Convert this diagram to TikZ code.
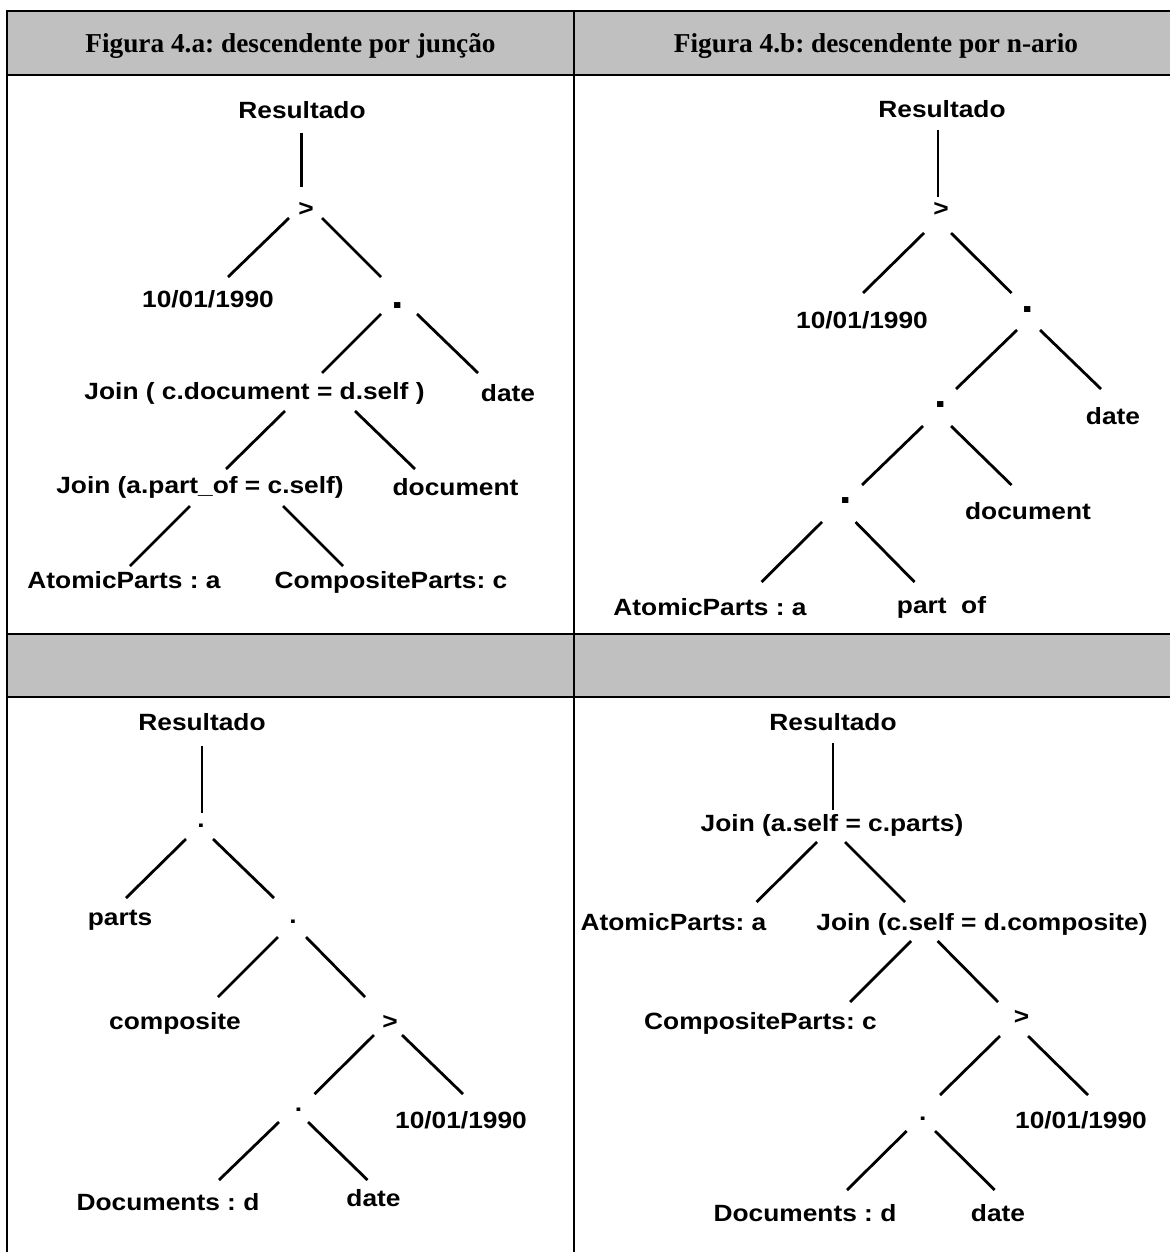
\documentclass[tikz,border=0pt]{standalone}
\usepackage{fontspec}
\newfontfamily\treefamily{Liberation Sans}[FakeStretch=1.12]
\newfontfamily\headfamily{Liberation Serif}
\newcommand\treetext{\treefamily\bfseries\fontsize{23.5}{28}\selectfont\frenchspacing}
\newcommand\bigdot{\treefamily\bfseries\fontsize{40}{40}\selectfont}
\newcommand\headtext{\headfamily\bfseries\fontsize{27.3}{32}\selectfont\frenchspacing}
\definecolor{cellgrey}{HTML}{C0C0C0}
% edge between two named nodes, each end shifted from the node's base point
\newcommand\treelink[4]{\draw[edge] ([shift={(#2)}]#1.base) -- ([shift={(#4)}]#3.base);}
\begin{document}
\begin{tikzpicture}[x=1pt,y=-1pt,
  tn/.style={inner sep=0pt, anchor=base, font=\treetext},
  dn/.style={inner sep=0pt, anchor=base, font=\bigdot},
  hd/.style={inner sep=0pt, anchor=base, font=\headtext},
  edge/.style={line width=2.8pt, line cap=butt},
  rule/.style={line width=2pt}]
\useasboundingbox (0,0) rectangle (1170,1252);

% table: grey bands and rules
\fill[cellgrey] (7,11) rectangle (1170,75);
\fill[cellgrey] (7,634.3) rectangle (1170,697);
\draw[rule] (6,11) -- (1170,11);
\draw[rule] (6,75) -- (1170,75);
\draw[rule] (6,634.3) -- (1170,634.3);
\draw[rule] (6,697) -- (1170,697);
\draw[rule] (7,10) -- (7,1252);
\draw[rule] (574.3,10) -- (574.3,1252);

\node[hd] (headA) at (290.5,52.7) {Figura 4.a: descendente por junção};
\node[hd] (headB) at (876,52.7) {Figura 4.b: descendente por n-ario};

% ---- tree 4.a
\node[tn] (rA) at (302,118.5) {Resultado};
\node[tn] (gtA) at (306,216) {>};
\node[tn] (dA1) at (208,307) {10/01/1990};
\node[dn] (dotA1) at (398,308.5) {.};
\node[tn] (j1A) at (254.5,399.5) {Join ( c.document = d.self )};
\node[tn] (dateA) at (508,401.5) {date};
\node[tn] (j2A) at (200,493.5) {Join (a.part\_of = c.self)};
\node[tn] (docA) at (455.5,495) {document};
\node[tn] (atA) at (124,588.3) {AtomicParts : a};
\node[tn] (cpA) at (391,588.3) {CompositeParts: c};
\treelink{rA}{-0.5,14.5}{gtA}{-4.5,-29}
\treelink{gtA}{-17,2}{dA1}{20,-30}
\treelink{gtA}{16,2}{dotA1}{-17,-31.5}
\treelink{dotA1}{-17,5.5}{j1A}{67.5,-26.5}
\treelink{dotA1}{19,5.5}{dateA}{-30,-28.5}
\treelink{j1A}{30.5,11.5}{j2A}{26,-24.5}
\treelink{j1A}{100.5,11.5}{docA}{-40.5,-26}
\treelink{j2A}{-10,12.5}{atA}{6,-22.3}
\treelink{j2A}{83,12.5}{cpA}{-48,-22.3}

% ---- tree 4.b
\node[tn] (rB) at (942,117.5) {Resultado};
\node[tn] (gtB) at (941,216.5) {>};
\node[tn] (dB1) at (862,328.3) {10/01/1990};
\node[dn] (dotB1) at (1028,312.7) {.};
\node[tn] (dateB) at (1113,424) {date};
\node[dn] (dotB2) at (941,407.7) {.};
\node[tn] (docB) at (1028,519.3) {document};
\node[dn] (dotB3) at (846,503.3) {.};
\node[tn] (atB) at (710,615) {AtomicParts : a};
\node[tn] (pofB) at (941.5,613) {part~~of};
\treelink{rB}{-4,12.5}{gtB}{-3,-19.5}
\treelink{gtB}{-17,16.5}{dB1}{1,-35.3}
\treelink{gtB}{10,16.5}{dotB1}{-16.5,-19.7}
\treelink{dotB1}{-11,17.3}{dotB2}{15,-18.7}
\treelink{dotB1}{12,17.3}{dateB}{-12,-35}
\treelink{dotB2}{-18,18.3}{dotB3}{16,-18.3}
\treelink{dotB2}{10,18.3}{docB}{-16.5,-34.3}
\treelink{dotB3}{-24,18.7}{atB}{51.5,-33}
\treelink{dotB3}{9.5,18.7}{pofB}{-27,-31}

% ---- tree lower left
\node[tn] (rC) at (202,730.7) {Resultado};
\node[tn] (dotC1) at (201,827.7) {.};
\node[tn] (partsC) at (120,925) {parts};
\node[tn] (dotC2) at (293,923.3) {.};
\node[tn] (compC) at (175,1029.3) {composite};
\node[tn] (gtC) at (390,1029) {>};
\node[tn] (dotC3) at (298.5,1111.7) {.};
\node[tn] (d90C) at (461,1128.3) {10/01/1990};
\node[tn] (docsC) at (168,1210) {Documents : d};
\node[tn] (dateC) at (373.5,1206.7) {date};
\treelink{rC}{0,15.3}{dotC1}{1,-14.7}
\treelink{dotC1}{-15,11.3}{partsC}{6,-27}
\treelink{dotC1}{12,11.3}{dotC2}{-19,-25.3}
\treelink{dotC2}{-15,13.7}{compC}{43,-32.3}
\treelink{dotC2}{13,13.7}{gtC}{-25,-32}
\treelink{gtC}{-16,6}{dotC3}{16,-17.7}
\treelink{gtC}{12,6}{d90C}{2,-34.3}
\treelink{dotC3}{-19.5,10.3}{docsC}{51,-30}
\treelink{dotC3}{9.5,10.3}{dateC}{-6,-26.7}

% ---- tree lower right
\node[tn] (rD) at (833,730) {Resultado};
\node[tn] (j1D) at (832,831) {Join (a.self = c.parts)};
\node[tn] (atD) at (673.5,930) {AtomicParts: a};
\node[tn] (j2D) at (982,930) {Join (c.self = d.composite)};
\node[tn] (cpD) at (760.5,1029.3) {CompositeParts: c};
\node[tn] (gtD) at (1021.6,1024) {>};
\node[tn] (dotD) at (922.7,1120) {.};
\node[tn] (d90D) at (1081,1128.3) {10/01/1990};
\node[tn] (docsD) at (805,1221.7) {Documents : d};
\node[tn] (dateD) at (998,1221.7) {date};
\treelink{rD}{0,13}{j1D}{1,-21}
\treelink{j1D}{-15,11}{atD}{83.1,-28}
\treelink{j1D}{13,11}{j2D}{-77,-28}
\treelink{j2D}{-71,11}{cpD}{89.5,-27.3}
\treelink{j2D}{-44.4,11}{gtD}{-23.6,-22}
\treelink{gtD}{-21.6,12}{dotD}{17.3,-25}
\treelink{gtD}{6.4,12}{d90D}{7,-33.3}
\treelink{dotD}{-16.1,11}{docsD}{42,-31.7}
\treelink{dotD}{12.3,11}{dateD}{-3.3,-31.7}
\end{tikzpicture}
\end{document}
